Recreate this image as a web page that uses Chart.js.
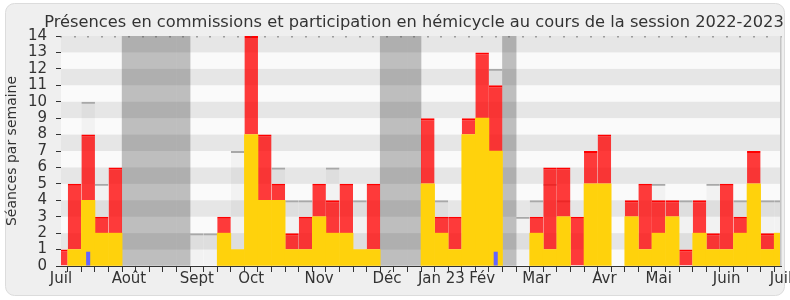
<!DOCTYPE html>
<html><head><meta charset="utf-8">
<script src="https://cdn.jsdelivr.net/npm/chart.js@4.4.1/dist/chart.umd.min.js"></script>
<style>html,body{margin:0;padding:0;background:#fff;}canvas{display:block;}</style>
</head><body>
<canvas id="c" width="790" height="300"></canvas>
<script>
// One entry per week (first and last weeks are cut by the axis edges)
const weekLabels = ['Juil','','','','','Août','','','','','Sept','','','','Oct','','','','','Nov','','','','','Déc','','','','Jan 23','','','Fév','','','','Mar','','','','','Avr','','','','Mai','','','','','Juin','','','','Juil'];
const hemicycle   = [0,1,4,2,2, 0,0,0,0,0, 0,0,2,1,8,4,4,1,1,3,2,2,1,1, 0,0,0, 5,2,1,8,9,7, 0, 0,2,1,3,0,5,5,0,3,1,2,3,0,2,1,1,2,5,1,2];
const commissions = [1,4,4,1,4, 0,0,0,0,0, 0,0,1,0,6,4,1,1,2,2,2,3,0,4, 0,0,0, 4,1,2,1,4,4, 0, 0,1,5,3,3,2,3,0,1,4,2,1,1,2,1,4,1,2,1,0];
const mediane     = [null,null,10,5,null, null,null,null,null,null, 2,2,null,7,null,null,6,4,4,null,6,null,4,null, null,null,null, null,4,null,null,null,12, null, 3,4,5,4,null,null,null,null,null,null,5,null,4,null,5,null,4,null,4,4];
const vacances    = [null,null,null,null,null, 14,14,14,14,14, null,null,null,null,null,null,null,null,null,null,null,null,null,null, 14,14,14, null,null,null,null,null,null, 14, null,null,null,null,null,null,null,null,null,null,null,null,null,null,null,null,null,null,null,null];
const questions   = [null,null,0.87,null,null, null,null,null,null,null, null,null,null,null,null,null,null,null,null,null,null,null,null,null, null,null,null, null,null,null,null,null,0.87, null, null,null,null,null,null,null,null,null,null,null,null,null,null,null,null,null,null,null,null,null];
const yTicks = [0,1,2,3,4,5,6,7,8,9,10,11,12,13,14];
const titleText = 'Présences en commissions et participation en hémicycle au cours de la session 2022-2023';

const FONT = 'DejaVu Sans';
const TXT = '#333333';
const nz = a => a.map(v => (v === 0 ? null : v));

const panel = {
  id: 'panel',
  beforeDraw(chart) {
    const {ctx, width, height} = chart;
    ctx.save();
    ctx.fillStyle = '#ffffff';
    ctx.fillRect(0, 0, width, height);
    const x = 5.5, y = 3.5, w = width - 11, h = height - 8, r = 9;
    ctx.beginPath();
    ctx.moveTo(x + r, y);
    ctx.arcTo(x + w, y, x + w, y + h, r);
    ctx.arcTo(x + w, y + h, x, y + h, r);
    ctx.arcTo(x, y + h, x, y, r);
    ctx.arcTo(x, y, x + w, y, r);
    ctx.closePath();
    ctx.fillStyle = '#efefef';
    ctx.fill();
    ctx.strokeStyle = '#dcdcdc';
    ctx.lineWidth = 1;
    ctx.stroke();
    ctx.fillStyle = TXT;
    ctx.font = '16.25px "' + FONT + '"';
    ctx.textAlign = 'center';
    ctx.textBaseline = 'alphabetic';
    ctx.fillText(titleText, 414, 27);
    ctx.restore();
  },
  beforeDatasetsDraw(chart) {
    const {ctx, chartArea: a} = chart;
    ctx.save();
    ctx.fillStyle = '#fafafa';
    ctx.fillRect(a.left, a.top, a.right - a.left, a.bottom - a.top);
    ctx.restore();
  },
  afterDatasetDraw(chart, args) {
    if (args.index !== 0) return;
    const {ctx, chartArea: a, scales: {y}} = chart;
    ctx.save();
    ctx.fillStyle = 'rgba(0,0,0,0.08)';
    for (let v = 1; v < 14; v += 2) {
      const t = y.getPixelForValue(v + 1), b = y.getPixelForValue(v);
      ctx.fillRect(a.left, t, a.right - a.left, b - t);
    }
    ctx.restore();
  },
  afterDraw(chart) {
    const {ctx, chartArea: a, scales: {x}} = chart;
    ctx.save();
    ctx.fillStyle = '#555555';
    for (let i = 0; i < x.ticks.length; i++) {
      const px = Math.round(x.getPixelForTick(i));
      ctx.fillRect(px - 0.5, a.top, 1, 1.5);
    }
    ctx.fillStyle = '#c4c4c4';
    ctx.fillRect(Math.round(a.right) - 1, a.top, 1.5, a.bottom - a.top);
    ctx.restore();
  }
};

const common = {grouped: false, barPercentage: 1, categoryPercentage: 1, clip: 0};

new Chart(document.getElementById('c'), {
  type: 'bar',
  data: {
    labels: weekLabels,
    datasets: [
      Object.assign({label: 'Vacances', data: vacances, backgroundColor: '#bebebe', borderWidth: 0, stack: 'v', order: 5}, common),
      Object.assign({label: 'Médiane', data: mediane, backgroundColor: 'rgba(0,0,0,0.03)', borderColor: '#a8a8a8', borderWidth: {top: 2, left: 0, right: 0, bottom: 0}, inflateAmount: 0, stack: 'm', order: 4}, common),
      Object.assign({label: 'Commissions', data: nz(commissions), backgroundColor: 'rgba(255,0,0,0.77)', borderColor: '#ff0000', borderWidth: {top: 2, left: 0, right: 0, bottom: 0}, inflateAmount: 0, stack: 'p', order: 3}, common),
      Object.assign({label: 'Hémicycle', data: nz(hemicycle), backgroundColor: '#ffd20c', borderWidth: 0, stack: 'p', order: 2}, common),
      Object.assign({label: 'Questions', data: questions, backgroundColor: '#6464ff', borderWidth: 0, inflateAmount: 0, stack: 'q', order: 1}, common, {barPercentage: 0.3})
    ]
  },
  options: {
    responsive: false,
    animation: false,
    devicePixelRatio: 1,
    layout: {padding: {left: 0, right: 9, top: 36, bottom: 0}},
    plugins: {
      legend: {display: false},
      tooltip: {enabled: false},
      title: {display: false}
    },
    scales: {
      x: {
        type: 'category',
        offset: false,
        z: 1,
        grid: {display: true, drawOnChartArea: false, drawTicks: true, tickLength: 6, color: '#333333'},
        border: {display: true, color: '#333333', width: 1},
        ticks: {
          autoSkip: false, maxRotation: 0, minRotation: 0, padding: -2,
          color: TXT, font: {family: FONT, size: 15},
          callback: (v, i) => weekLabels[i]
        },
        afterFit: s => { s.height = 34; s.paddingLeft = 0; s.paddingRight = 0; }
      },
      y: {
        stacked: true,
        min: 0, max: 14,
        z: 1,
        afterBuildTicks: s => { s.ticks = yTicks.map(v => ({value: v})); },
        grid: {display: true, drawOnChartArea: false, drawTicks: true, tickLength: 5, color: '#333333'},
        border: {display: true, color: '#333333', width: 1},
        ticks: {autoSkip: false, padding: 9, color: TXT, font: {family: FONT, size: 15}},
        title: {display: true, text: 'Séances par semaine', color: TXT, font: {family: FONT, size: 14}, padding: {top: 4, bottom: 0}},
        afterFit: s => { s.width = 61; s.paddingTop = 0; s.paddingBottom = 0; }
      }
    }
  },
  plugins: [panel]
});
</script>
</body></html>
